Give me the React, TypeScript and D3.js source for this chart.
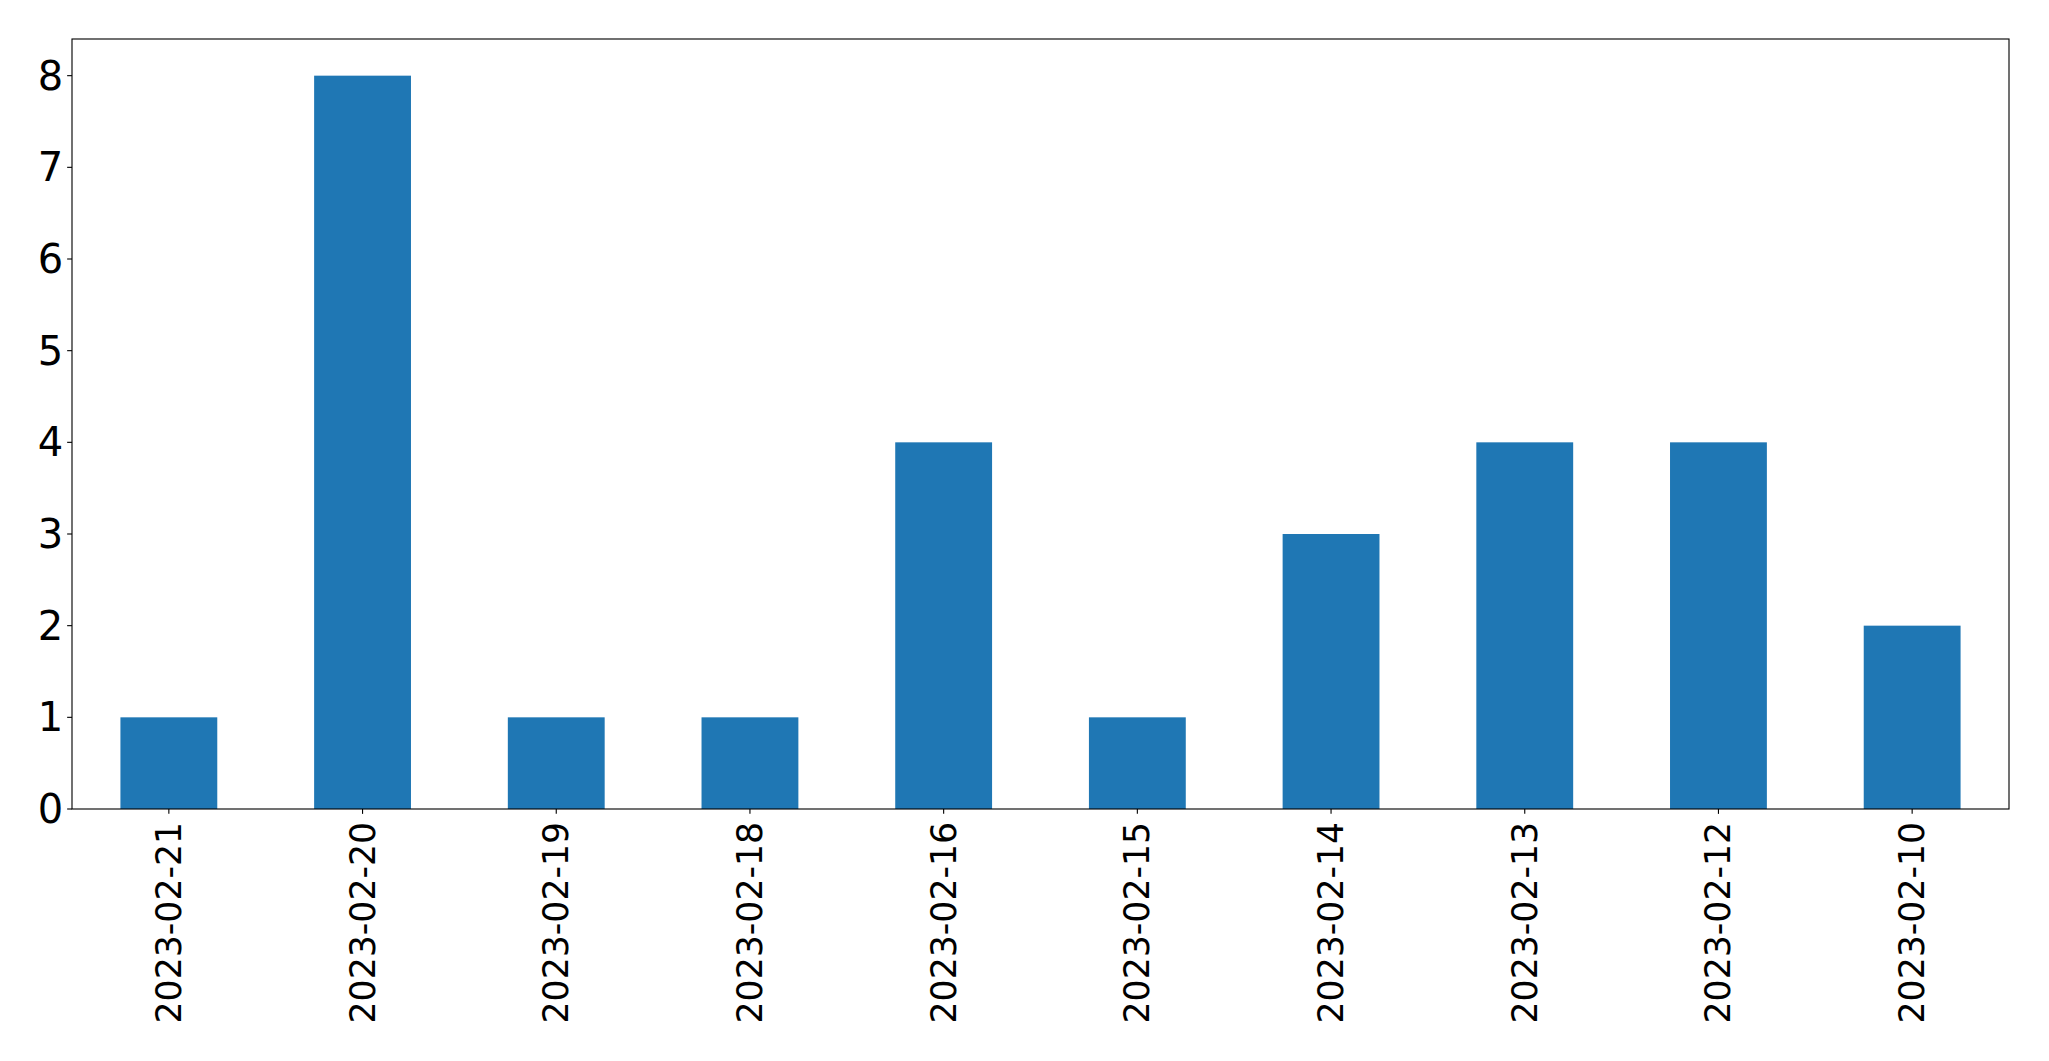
import React from "react";
import * as d3 from "d3";

const categories: string[] = [
  "2023-02-21",
  "2023-02-20",
  "2023-02-19",
  "2023-02-18",
  "2023-02-16",
  "2023-02-15",
  "2023-02-14",
  "2023-02-13",
  "2023-02-12",
  "2023-02-10",
];
const counts: number[] = [1, 8, 1, 1, 4, 1, 3, 4, 4, 2];
const yTicks: number[] = [0, 1, 2, 3, 4, 5, 6, 7, 8];

const W = 2049;
const H = 1061;
const left = 72;
const right = 2009;
const top = 39;
const bottom = 809;
const xFontSize = 34.7;
const yFontSize = 40;
const tickLen = 4.86;
const lw = 1.11;

export default function App() {
  const x = d3.scaleLinear().domain([-0.5, categories.length - 0.5]).range([left, right]);
  const y = d3.scaleLinear().domain([0, 8.4]).range([bottom, top]);
  const barW = x(0.5) - x(0);
  const font = "'DejaVu Sans', sans-serif";

  return (
    <svg
      width={W}
      height={H}
      style={{ position: "absolute", left: 0, top: 0, background: "#fff" }}
      xmlns="http://www.w3.org/2000/svg"
    >
      <rect x={0} y={0} width={W} height={H} fill="#fff" />
      {counts.map((v, i) => (
        <rect
          key={categories[i]}
          x={x(i) - barW / 2}
          y={y(v)}
          width={barW}
          height={y(0) - y(v)}
          fill="#1f77b4"
        />
      ))}
      <rect
        x={left}
        y={top}
        width={right - left}
        height={bottom - top}
        fill="none"
        stroke="#000"
        strokeWidth={lw}
      />
      {yTicks.map((t) => (
        <g key={"y" + t}>
          <line x1={left - tickLen} x2={left} y1={y(t)} y2={y(t)} stroke="#000" strokeWidth={lw} />
          <text
            x={left - tickLen - 4}
            y={y(t)}
            textAnchor="end"
            dominantBaseline="central"
            fontFamily={font}
            fontSize={yFontSize}
            fill="#000"
          >
            {t}
          </text>
        </g>
      ))}
      {categories.map((c, i) => (
        <g key={"x" + c}>
          <line x1={x(i)} x2={x(i)} y1={bottom} y2={bottom + tickLen} stroke="#000" strokeWidth={lw} />
          <text
            transform={`translate(${x(i)},${bottom + tickLen + 8}) rotate(-90)`}
            textAnchor="end"
            dominantBaseline="central"
            fontFamily={font}
            fontSize={xFontSize}
            fill="#000"
          >
            {c}
          </text>
        </g>
      ))}
    </svg>
  );
}
